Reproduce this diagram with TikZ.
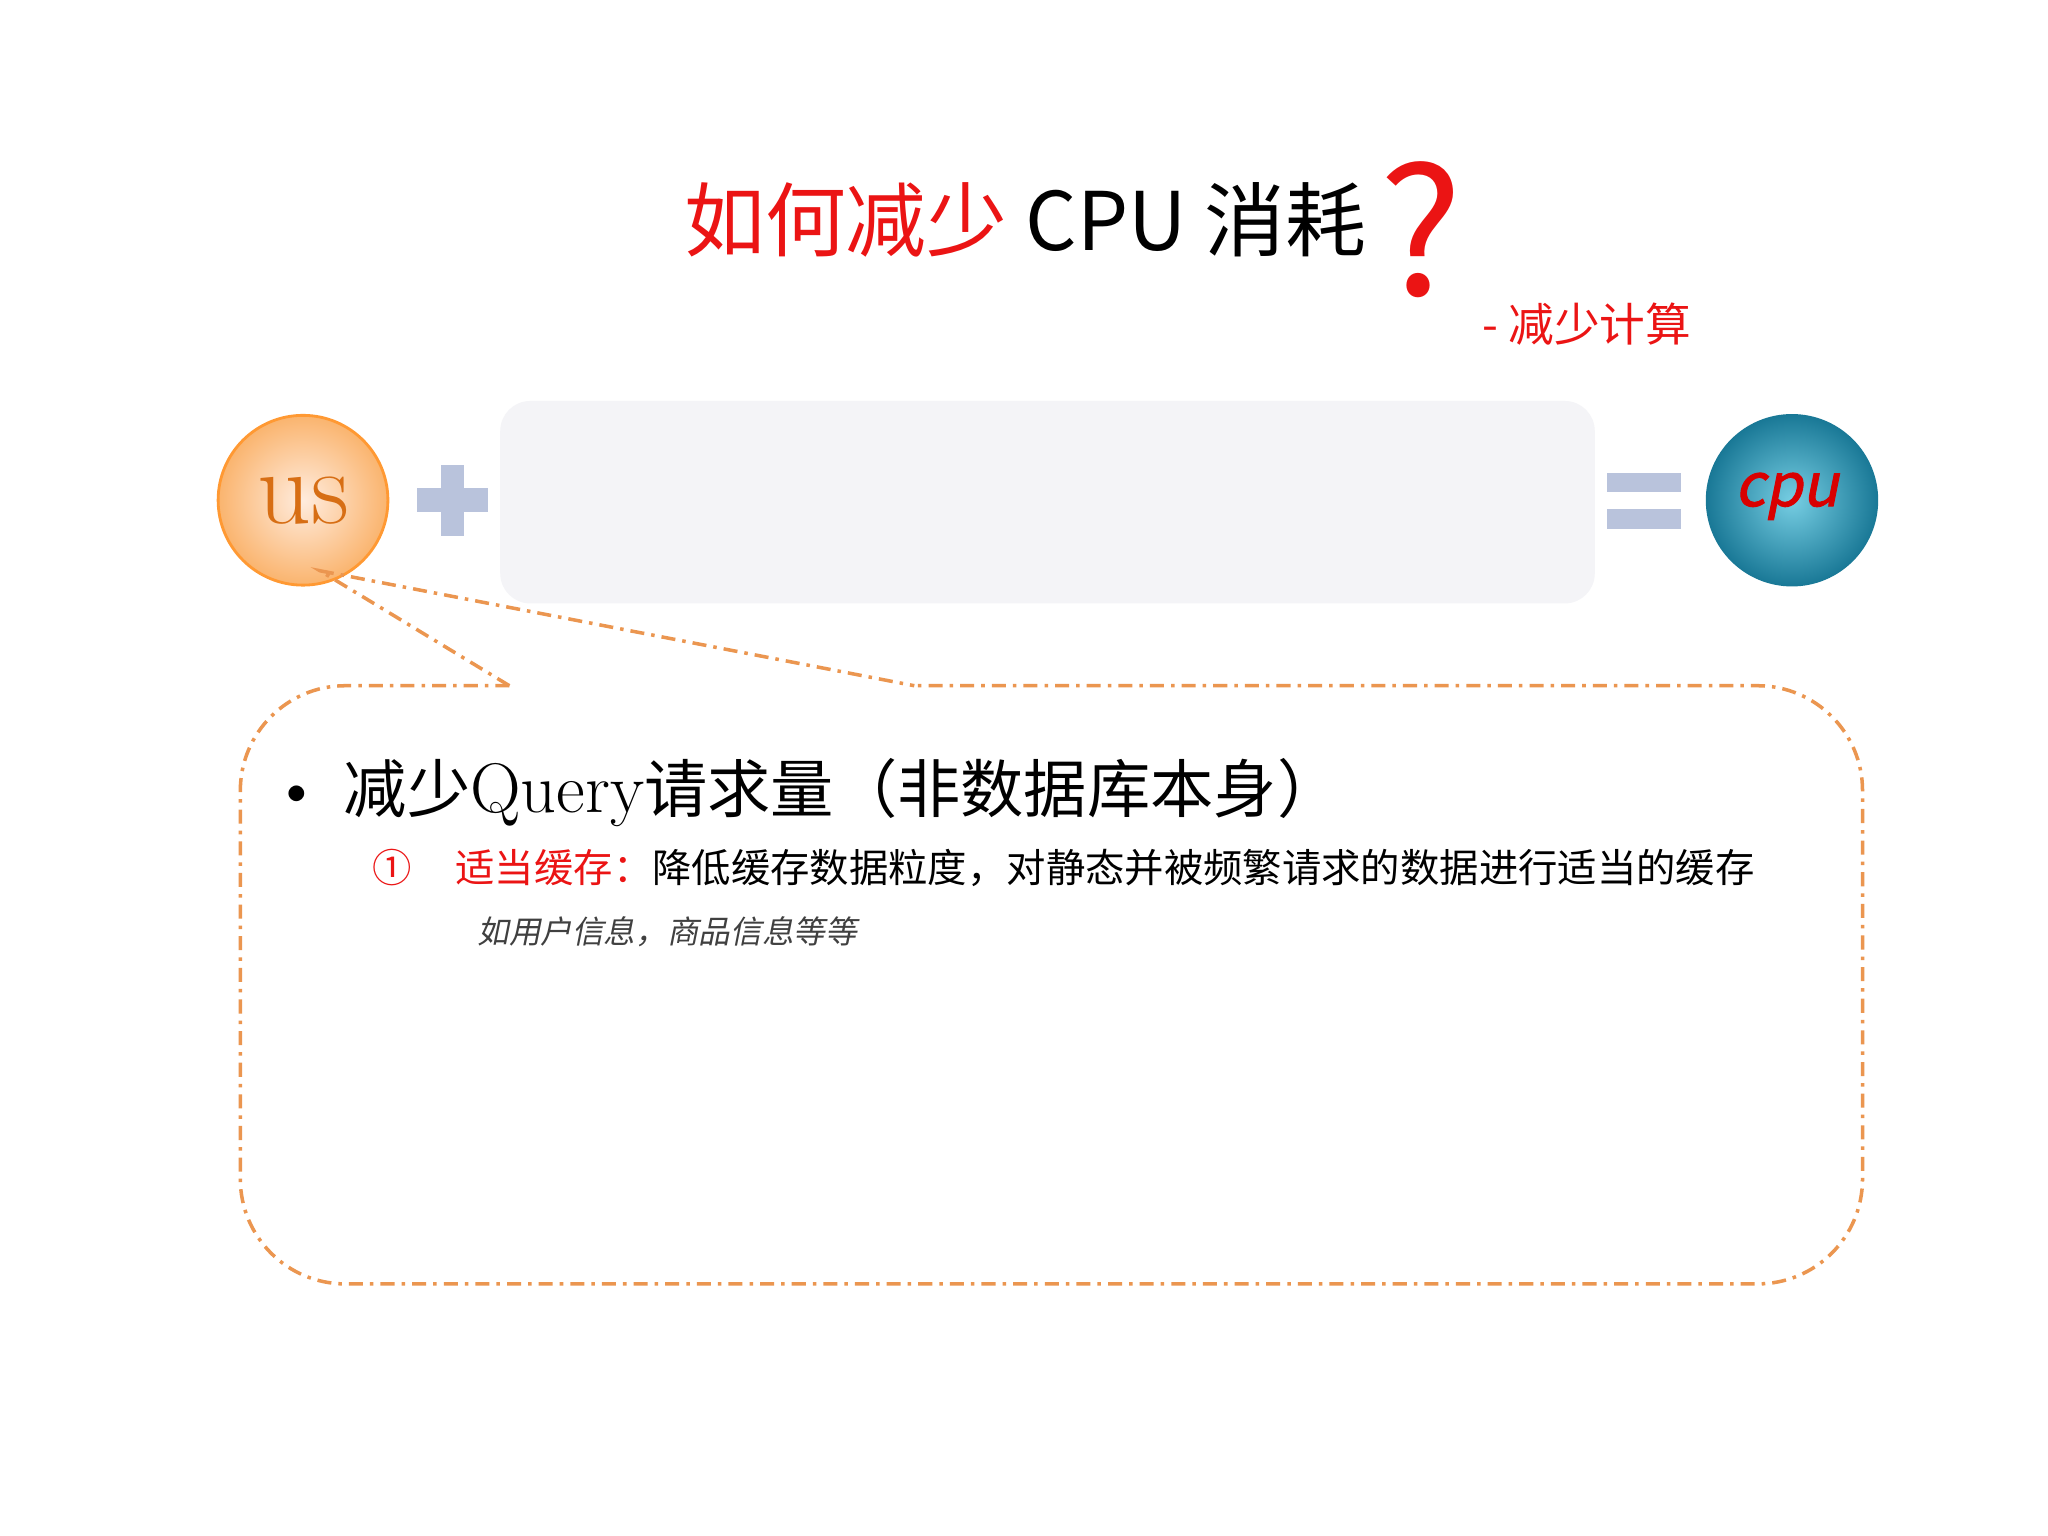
\documentclass[tikz,border=0pt]{standalone}
\usepackage{fontspec}
\newfontfamily\cjk{Noto Sans CJK SC}
\newfontfamily\cjkit[FakeSlant=0.2]{Noto Sans CJK SC}
\newfontfamily\cjkbit[FakeSlant=0.2,FakeBold=1.5]{Noto Sans CJK SC}
\definecolor{tred}{RGB}{235,20,20}
\definecolor{usor}{RGB}{215,110,20}
\definecolor{usin}{RGB}{255,236,222}
\definecolor{usout}{RGB}{250,180,110}
\definecolor{sym}{RGB}{185,195,220}
\definecolor{boxg}{RGB}{244,244,247}
\definecolor{teal1}{RGB}{60,185,215}
\definecolor{teal2}{RGB}{25,120,150}
\definecolor{dashor}{RGB}{235,150,80}
\tikzset{
  callout/.style={draw=dashor, line width=1pt, dash pattern=on 4pt off 2pt on 1pt off 2pt},
  symbar/.style={fill=sym, draw=none}
}
\begin{document}
\begin{tikzpicture}[x=0.013061cm,y=-0.013061cm]
\useasboundingbox[fill=white] (0,0) rectangle (1568,1176);
% title
\node[font=\cjk\fontsize{23}{28}\selectfont, anchor=base] (title) at (785,192)
  {\textcolor{tred}{如何减少} CPU 消耗};
\node[font=\cjk\fontsize{50}{54}\selectfont, text=tred, anchor=base west, inner sep=0] (q) at ([yshift=-0.45cm]title.base east) {?};
\node[font=\cjk\fontsize{13}{16}\selectfont, text=tred] (sub) at (1215,248) {- 减少计算};
% middle row
\fill[boxg, rounded corners=0.3cm] (383,307) rectangle (1221,462);
\shade[inner color=usin, outer color=usout] (232,383) circle (65);
\draw[orange!80, line width=0.8pt] (232,383) circle (65);
\node[font=\fontsize{30}{32}\selectfont, text=usor] (us) at (232,383) {us};
\fill[symbar] (338,356) rectangle (355,410);
\fill[symbar] (319,374) rectangle (374,392);
\fill[symbar] (1230,362) rectangle (1287,377);
\fill[symbar] (1230,390) rectangle (1287,405);
\shade[inner color=teal1!70!white, outer color=teal2] (1372,383) circle (66);
\node[font=\cjkbit\fontsize{17}{20}\selectfont, text=red!85!black] (cpu) at (1368,380) {cpu};
% callout
\coordinate (p1) at (245,437);
\coordinate (p2) at (390,525);
\coordinate (p3) at (700,525);
\draw[callout, rounded corners=1.05cm] (p2) -- (184,525) -- (184,983) -- (1426,983) -- (1426,525) -- (p3);
\draw[callout] (p2) -- (p1) -- (p3);
% texts
\node[font=\cjk\fontsize{18}{22}\selectfont, anchor=base west, inner sep=0] (b1) at (207,622)
  {{\rmfamily\fontsize{20}{22}\selectfont\textbullet}\hspace{0.35em}减少{\rmfamily\fontsize{20}{22}\selectfont Query}请求量（非数据库本身）};
\node[font=\cjk\fontsize{11.2}{14}\selectfont, anchor=base west, inner sep=0] (b2) at (285,676)
  {\textcolor{tred}{①\hspace{1.1em}适当缓存：}降低缓存数据粒度，对静态并被频繁请求的数据进行适当的缓存};
\node[font=\cjkit\fontsize{9}{10}\selectfont, text=black!75, anchor=base west, inner sep=0] (b3) at (365,722)
  {如用户信息，商品信息等等};
\end{tikzpicture}
\end{document}
